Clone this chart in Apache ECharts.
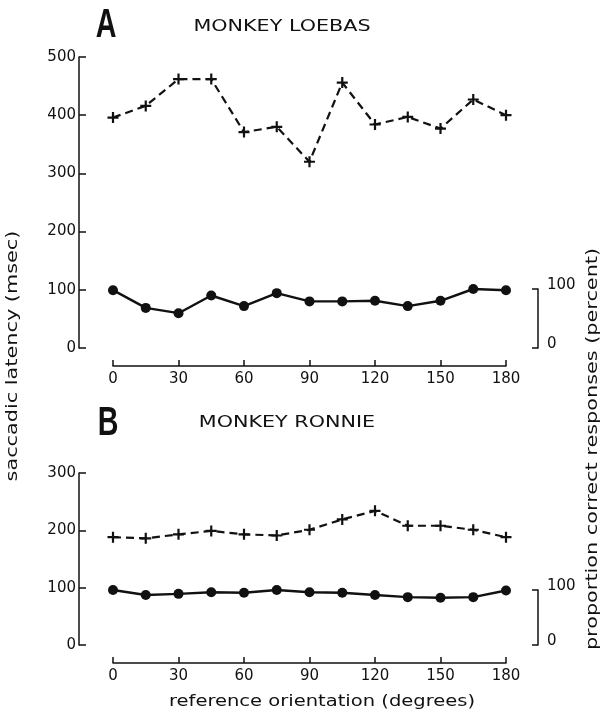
<!DOCTYPE html>
<html>
<head>
<meta charset="utf-8">
<script src="https://cdn.jsdelivr.net/npm/echarts@6/dist/echarts.min.js"></script>
<style>
  html, body { margin: 0; padding: 0; background: #fff; }
  #chart { width: 602px; height: 711px; }
</style>
</head>
<body>
<div id="chart"></div>
<script>
// Reference orientation (degrees) of each test condition
const orientations = [0, 15, 30, 45, 60, 75, 90, 105, 120, 135, 150, 165, 180];

// Monkey Loebas: saccadic latency (msec) and proportion correct (percent)
const loebasLatency = [396, 416, 462, 462, 371, 380, 320, 456, 384, 397, 377, 427, 400];
const loebasCorrect = [98, 68, 59, 89, 71, 93, 79, 79, 80, 71, 80, 100, 98];

// Monkey Ronnie: saccadic latency (msec) and proportion correct (percent)
const ronnieLatency = [188, 186, 193, 199, 193, 191, 201, 219, 234, 208, 208, 201, 188];
const ronnieCorrect = [100, 91, 93, 96, 95, 100, 96, 95, 91, 87, 86, 87, 99];

// Axis ranges: [min, max, interval]
const orientationRange = [0, 180, 30];
const latencyRangeA = [0, 500, 100];
const latencyRangeB = [0, 300, 100];
const percentRange = [0, 100, 100];

const INK = '#111';
const FONT = 'DejaVu Sans';

const pairs = (xs, ys) => xs.map((x, i) => [x, ys[i]]);

function orientationAxis(gridIndex, visible) {
  return {
    type: 'value', gridIndex,
    min: orientationRange[0], max: orientationRange[1], interval: orientationRange[2],
    show: visible,
    position: 'bottom', offset: 18,
    axisLine: { show: true, onZero: false, lineStyle: { color: INK, width: 1.5 } },
    axisTick: { show: true, inside: true, length: 6, lineStyle: { color: INK, width: 1.5 } },
    axisLabel: { show: true, color: INK, fontFamily: FONT, fontSize: 15, margin: 6 },
    splitLine: { show: false }
  };
}

function latencyAxis(gridIndex, range) {
  return {
    type: 'value', gridIndex,
    min: range[0], max: range[1], interval: range[2],
    position: 'left', offset: 34,
    axisLine: { show: true, onZero: false, lineStyle: { color: INK, width: 1.5 } },
    axisTick: { show: true, inside: true, length: 7, lineStyle: { color: INK, width: 1.5 } },
    axisLabel: { color: INK, fontFamily: FONT, fontSize: 15, margin: 3 },
    splitLine: { show: false }
  };
}

function percentAxis(gridIndex) {
  return {
    type: 'value', gridIndex,
    min: percentRange[0], max: percentRange[1], interval: percentRange[2],
    position: 'right', offset: 32,
    axisLine: { show: true, onZero: false, lineStyle: { color: INK, width: 1.5 } },
    axisTick: { show: true, inside: true, length: 6, lineStyle: { color: INK, width: 1.5 } },
    axisLabel: {
      color: INK, fontFamily: FONT, fontSize: 15, margin: 9,
      verticalAlign: 'bottom', lineHeight: 7
    },
    splitLine: { show: false }
  };
}

// plus-shaped marker for the latency curves
const plusSymbol = 'path://M4 0h2v4h4v2h-4v4h-2v-4h-4v-2h4z';

function latencySeries(xi, yi, values) {
  return {
    type: 'line', xAxisIndex: xi, yAxisIndex: yi,
    data: pairs(orientations, values),
    symbol: plusSymbol, symbolSize: 11,
    itemStyle: { color: INK },
    lineStyle: { color: INK, width: 2.2, type: [8, 5] },
    silent: true
  };
}

function correctSeries(xi, yi, values) {
  return {
    type: 'line', xAxisIndex: xi, yAxisIndex: yi,
    data: pairs(orientations, values),
    symbol: 'circle', symbolSize: 10,
    itemStyle: { color: INK, borderWidth: 0 },
    lineStyle: { color: INK, width: 2.4 },
    silent: true
  };
}

function label(text, x, y, opts) {
  return {
    type: 'text', x, y,
    rotation: opts.rotation || 0,
    scaleX: opts.scaleX || 1,
    silent: true,
    style: {
      text, x: 0, y: 0,
      fill: INK,
      font: (opts.weight || 'normal') + ' ' + (opts.size || 16) + 'px "' + (opts.family || FONT) + '"',
      align: 'center', verticalAlign: 'middle'
    }
  };
}

const chart = echarts.init(document.getElementById('chart'), null, { renderer: 'canvas' });

chart.setOption({
  animation: false,
  backgroundColor: '#fff',
  grid: [
    { left: 113, right: 96, top: 57, bottom: 363 },
    { left: 113, right: 96, top: 289, bottom: 363 },
    { left: 113, right: 96, top: 473, bottom: 66 },
    { left: 113, right: 96, top: 590, bottom: 66 }
  ],
  xAxis: [
    orientationAxis(0, true),
    orientationAxis(1, false),
    orientationAxis(2, true),
    orientationAxis(3, false)
  ],
  yAxis: [
    latencyAxis(0, latencyRangeA),
    percentAxis(1),
    latencyAxis(2, latencyRangeB),
    percentAxis(3)
  ],
  series: [
    latencySeries(0, 0, loebasLatency),
    correctSeries(1, 1, loebasCorrect),
    latencySeries(2, 2, ronnieLatency),
    correctSeries(3, 3, ronnieCorrect)
  ],
  graphic: [
    label('A', 106, 26, { size: 41, family: 'Liberation Sans', scaleX: 0.7, weight: 'bold' }),
    label('MONKEY LOEBAS', 282, 27, { size: 15, scaleX: 1.38 }),
    label('B', 108, 424, { size: 41, family: 'Liberation Sans', scaleX: 0.7, weight: 'bold' }),
    label('MONKEY RONNIE', 287, 423, { size: 15, scaleX: 1.38 }),
    label('saccadic latency (msec)', 13, 356, { size: 16, rotation: Math.PI / 2, scaleX: 1.3 }),
    label('proportion correct responses (percent)', 593, 449, { size: 16, rotation: Math.PI / 2, scaleX: 1.3 }),
    label('reference orientation (degrees)', 322, 702, { size: 16, scaleX: 1.22 })
  ]
});
</script>
</body>
</html>
